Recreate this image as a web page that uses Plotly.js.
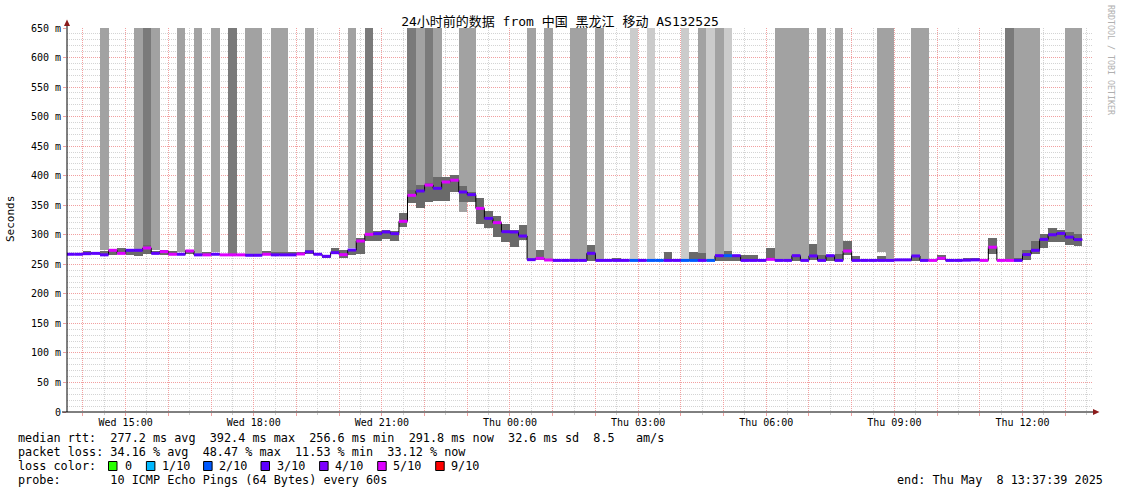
<!DOCTYPE html>
<html><head><meta charset="utf-8">
<script src="https://cdn.plot.ly/plotly-3.0.1.min.js"></script>
<style>html,body{margin:0;padding:0;background:#fff}#chart{width:1121px;height:494px}</style>
</head><body><div id="chart"></div>
<script>
// ---- data (12-minute steps starting Wed 2025-05-07 13:36) ----
const firstStep = '2025-05-07 13:36:00';
const stepMinutes = 12;
const median = [267,267,268,268.5,266,273.7,268.5,273.7,273.7,277.6,268.5,271.5,267,267,272.6,266,266,267,266,266,266,265.3,265.3,267,266,266,266,267.5,271,267,263.5,
269.7,266.3,274.2,289.4,300.7,301.9,304.7,301.9,322.8,366.8,374.1,384.2,378.6,389.3,392.4,372.4,367.9,344.7,327.8,320.5,305.2,304.7,297.9,257.9,260.1,257.3,256.6,256.6,256.6,256.6,
268.6,256.6,256.6,256.6,256.6,256.6,256.6,256.6,256.6,256.6,256.6,256.6,256.6,256.6,256.6,264.6,264.6,264.6,256.6,256.6,256.6,258.4,256.6,256.6,264.6,256.6,264.2,256.6,264.6,256.6,
272.5,256.6,256.6,256.6,256.6,256.6,257.5,257.5,264.1,256.6,256.6,260.2,256.6,256.6,257,257.5,256.6,279,256.6,256.6,256.6,266.5,273.7,292.2,300,302.3,296,291.8];
const lossTenths = [3,3,3,3,3,5,5,3,3,5,3,5,5,3,5,3,5,3,5,5,5,3,3,5,3,3,3,5,3,3,3,
3,5,3,5,5,3,3,3,5,5,3,5,3,5,5,3,3,5,3,5,3,3,3,3,5,5,3,3,3,3,
3,3,3,3,3,2,3,2,2,3,3,2,2,3,2,3,2,3,3,3,3,5,3,3,3,3,3,3,3,3,
5,3,3,3,3,3,3,3,3,3,5,5,3,3,3,3,5,5,5,5,3,3,3,3,3,3,3,3];
const smokeLo = [267,267,267,267,265,266,268,265,264,268,267,266,266,266,268,266,265,266,266,266,266,264,264,266,265,265,266,266,268,266,260,
267,260,266,267,289,289,293,290,313,353,345,355,357,357,373,355,356,319,311,297,287,280,291,257,257,257,257,257,257,257,
256,257,257,257,257,257,257,257,257,257,257,257,257,257,257,256,256,256,257,257,257,258,257,257,256,257,257,257,256,257,
266,257,257,257,257,257,257,257,255,257,257,257,257,257,257,257,257,268,257,257,257,257,268,277,288,288,283,281];
const smokeHi = [267,267,272,270,272,275,278,275,275,282,272,275,272,269,274,268,271,269,267,267,267,267,267,272,270,270,271,271,275,269,265,
277,274,272,294,303,306,308,306,337,376,384,387,398,398,402,382,372,363,340,331,318,308,317,258,274,258,257,257,258,258,
283,257,259,260,257,257,257,257,257,271,259,257,271,269,257,265,272,265,266,266,257,278,257,257,265,257,284,266,265,268,
290,264,257,259,264,257,257,257,264,257,257,265,257,257,260,261,257,294,257,258,260,275,290,302,311,308,305,301];
// 0 = none, 1 = light, 2 = medium, 3 = dark smoke reaching the top
const tallShade = [0,0,0,0,2,0,0,0,2,3,2,0,0,2,0,2,0,2,0,3,0,2,2,0,2,2,0,0,2,0,0,
0,0,2,0,3,0,0,0,0,3,2,3,2,0,0,2,2,0,0,0,0,0,0,2,0,2,0,0,2,2,
0,2,0,0,0,1,0,1,0,0,0,1,0,2,1,2,1,0,0,0,0,0,2,2,2,2,0,2,0,2,
0,0,0,0,2,2,0,0,2,2,0,0,0,0,0,0,0,0,0,3,2,2,2,0,0,0,2,2];
const tallBase = [0,0,0,0,274,0,0,0,275,282,274,0,0,270,0,267,0,270,0,267,0,267,267,0,270,270,0,0,275,0,0,
0,0,278,0,289,0,0,0,0,376,384,387,398,0,0,339,356,0,0,0,0,0,0,259,0,258,0,0,258,258,
0,257,0,0,0,257,0,257,0,0,0,257,0,269,257,266,272,0,0,0,0,0,257,257,265,257,0,266,0,268,
0,0,0,0,270,257,0,0,264,257,0,0,0,0,0,0,0,0,0,257,257,275,290,0,0,0,305,301];
const lossLevels = [0,1,2,3,4,5,9];
const lossLabels = ['0','1/10','2/10','3/10','4/10','5/10','9/10'];
const lossColors = ['#26ff00','#00b8ff','#0059ff','#5e00ff','#7e00ff','#dd00ff','#ff0000'];
const xTickTimes = ['2025-05-07 15:00','2025-05-07 18:00','2025-05-07 21:00','2025-05-08 00:00','2025-05-08 03:00','2025-05-08 06:00','2025-05-08 09:00','2025-05-08 12:00'];
const xTickLabels = ['Wed 15:00','Wed 18:00','Wed 21:00','Thu 00:00','Thu 03:00','Thu 06:00','Thu 09:00','Thu 12:00'];
const yTickVals = [0,50,100,150,200,250,300,350,400,450,500,550,600,650];
const yTickText = ['0','50 m','100 m','150 m','200 m','250 m','300 m','350 m','400 m','450 m','500 m','550 m','600 m','650 m'];
const rangeStart = '2025-05-07 13:37:39';
const rangeEnd = '2025-05-08 13:37:39';

// ---- helpers ----
const toMs = s => Date.parse(s.replace(' ','T')+'Z');
const fmt = ms => new Date(ms).toISOString().replace('T',' ').slice(0,19);
const STEP = stepMinutes*60000;
const t0 = toMs(firstStep);
const starts = median.map((_,i)=>t0+i*STEP);
const centers = starts.map(s=>fmt(s+STEP/2));
const TOP = 700;
const traces = [];
const shadeColors = {1:'#cbcbcb',2:'#a2a2a2',3:'#7a7a7a'};
[1,2,3].forEach(s=>{
  const idx = tallShade.map((v,i)=>v===s?i:-1).filter(i=>i>=0);
  traces.push({type:'bar',x:idx.map(i=>centers[i]),base:idx.map(i=>tallBase[i]),y:idx.map(i=>TOP-tallBase[i]),
    width:idx.map(()=>STEP),marker:{color:shadeColors[s],line:{width:0}},hoverinfo:'skip'});
});
const sIdx = smokeLo.map((v,i)=>(smokeHi[i]-v)>0.4?i:-1).filter(i=>i>=0);
traces.push({type:'bar',x:sIdx.map(i=>centers[i]),base:sIdx.map(i=>smokeLo[i]),y:sIdx.map(i=>smokeHi[i]-smokeLo[i]),
  width:sIdx.map(()=>STEP),marker:{color:'#6a6a6a',line:{width:0}},hoverinfo:'skip'});
// black median step line
traces.push({type:'scatter',mode:'lines',x:starts.map(fmt).concat([fmt(starts[starts.length-1]+STEP)]),
  y:median.concat([median[median.length-1]]),line:{shape:'hv',color:'#000',width:1},hoverinfo:'skip'});
// loss-coloured median segments
lossLevels.forEach((L,k)=>{
  const xs=[],ys=[];
  median.forEach((m,i)=>{ if(lossTenths[i]===L){ xs.push(fmt(starts[i]),fmt(starts[i]+STEP),null); ys.push(m,m,null);} });
  if(xs.length) traces.push({type:'scatter',mode:'lines',x:xs,y:ys,line:{color:lossColors[k],width:3},hoverinfo:'skip'});
});

// hourly ticks (labels every 3h)
const hourVals=[], hourText=[];
for(let h=Math.ceil(toMs(rangeStart)/3600000)*3600000; h<=toMs(rangeEnd); h+=3600000){
  const s=fmt(h).slice(0,16); const j=xTickTimes.indexOf(s);
  hourVals.push(fmt(h)); hourText.push(j>=0?xTickLabels[j]:'');
}

const PL=67, PR=1092, PT=28, PB=412;
const px = x => (x-PL)/(PR-PL);
const py = y => (PB-y)/(PB-PT);
const nb = s => s.replace(/ /g,'\u00a0');
const MONO = 'DejaVu Sans Mono, monospace';
const ann = [];
const txt = (x,y,t,opt={}) => ann.push(Object.assign({xref:'paper',yref:'paper',x:px(x),y:py(y),text:nb(t),showarrow:false,
  xanchor:'left',yanchor:'middle',font:{family:MONO,size:11.8,color:'#000'}},opt));
txt(16,438,'median rtt:  277.2 ms avg  392.4 ms max  256.6 ms min  291.8 ms now  32.6 ms sd  8.5   am/s');
txt(16,452,'packet loss: 34.16 % avg  48.47 % max  11.53 % min  33.12 % now');
txt(16,466,'loss color:');
txt(16,480,'probe:       10 ICMP Echo Pings (64 Bytes) every 60s');
txt(1105,480,'end: Thu May  8 13:37:39 2025',{xanchor:'right'});
txt(10,219,'Seconds',{xanchor:'center',textangle:-90,font:{family:MONO,size:11,color:'#000'}});
txt(1111,60,'RRDTOOL / TOBI OETIKER',{xanchor:'center',textangle:90,font:{family:MONO,size:8.3,color:'#b0b0b0'}});
const boxX=[108.5,146.4,203.6,261,319.6,377.7,435.7];
const labX=[123,160,217,275,333,391,449];
const shapes=[];
lossLabels.forEach((l,k)=>{
  txt(labX[k],466,l);
  shapes.push({type:'rect',xref:'paper',yref:'paper',x0:px(boxX[k]),x1:px(boxX[k]+8.5),y0:py(461.5),y1:py(470.5),
    fillcolor:lossColors[k],line:{color:'#000',width:1}});
});
const AR='#8b1a1a';
shapes.push({type:'line',xref:'paper',yref:'paper',x0:0,x1:0,y0:1,y1:py(22),line:{color:'#000',width:1}});
shapes.push({type:'line',xref:'paper',yref:'paper',x0:px(62),x1:px(1095),y0:0,y1:0,line:{color:'#000',width:1}});
shapes.push({type:'line',xref:'paper',yref:'paper',x0:0,x1:0,y0:0,y1:1,line:{color:'#000',width:1}});
shapes.push({type:'path',xref:'paper',yref:'paper',path:`M ${px(64)} ${py(26)} L ${px(70)} ${py(26)} L ${px(67)} ${py(19.5)} Z`,fillcolor:AR,line:{width:0}});
shapes.push({type:'path',xref:'paper',yref:'paper',path:`M ${px(1093)} ${py(409)} L ${px(1093)} ${py(415)} L ${px(1099.5)} ${py(412)} Z`,fillcolor:AR,line:{width:0}});

const layout = {
  width:1121,height:494,margin:{l:PL,r:1121-PR,t:PT,b:494-PB,pad:0},
  paper_bgcolor:'#fff',plot_bgcolor:'#fff',showlegend:false,barmode:'overlay',bargap:0,
  title:{text:'24小时前的数据 from 中国 黑龙江 移动 AS132525',xref:'container',yref:'container',x:560/1121,y:1-21/494,
    xanchor:'center',yanchor:'middle',font:{family:'DejaVu Sans Mono, Noto Sans CJK SC',size:13,color:'#000'}},
  xaxis:{type:'date',range:[rangeStart,rangeEnd],tickmode:'array',tickvals:hourVals,ticktext:hourText,
    ticks:'outside',ticklen:3,tickcolor:'#f0a0a0',showgrid:true,gridcolor:'#f2a0a0',griddash:'1px,1px',gridwidth:1,
    showline:false,zeroline:false,fixedrange:true,tickfont:{family:MONO,size:10,color:'#000'},ticklabelstandoff:-2,
    minor:{tickmode:'linear',tick0:'2025-05-07 13:30:00',dtick:3600000,showgrid:true,gridcolor:'#d4d4d4',griddash:'1px,1px',ticks:'outside',ticklen:2,tickcolor:'#cccccc'}},
  yaxis:{range:[0,650],tickmode:'array',tickvals:yTickVals,ticktext:yTickText,ticks:'outside',ticklen:3,tickcolor:'#f0a0a0',
    showgrid:true,gridcolor:'#f2a0a0',griddash:'1px,1px',showline:false,zeroline:false,fixedrange:true,
    tickfont:{family:MONO,size:10,color:'#000'},
    minor:{tickmode:'linear',tick0:10,dtick:10,showgrid:true,gridcolor:'#d4d4d4',griddash:'1px,1px'}},
  annotations:ann,shapes:shapes
};
Plotly.newPlot('chart',traces,layout,{staticPlot:true,displayModeBar:false});
</script></body></html>
